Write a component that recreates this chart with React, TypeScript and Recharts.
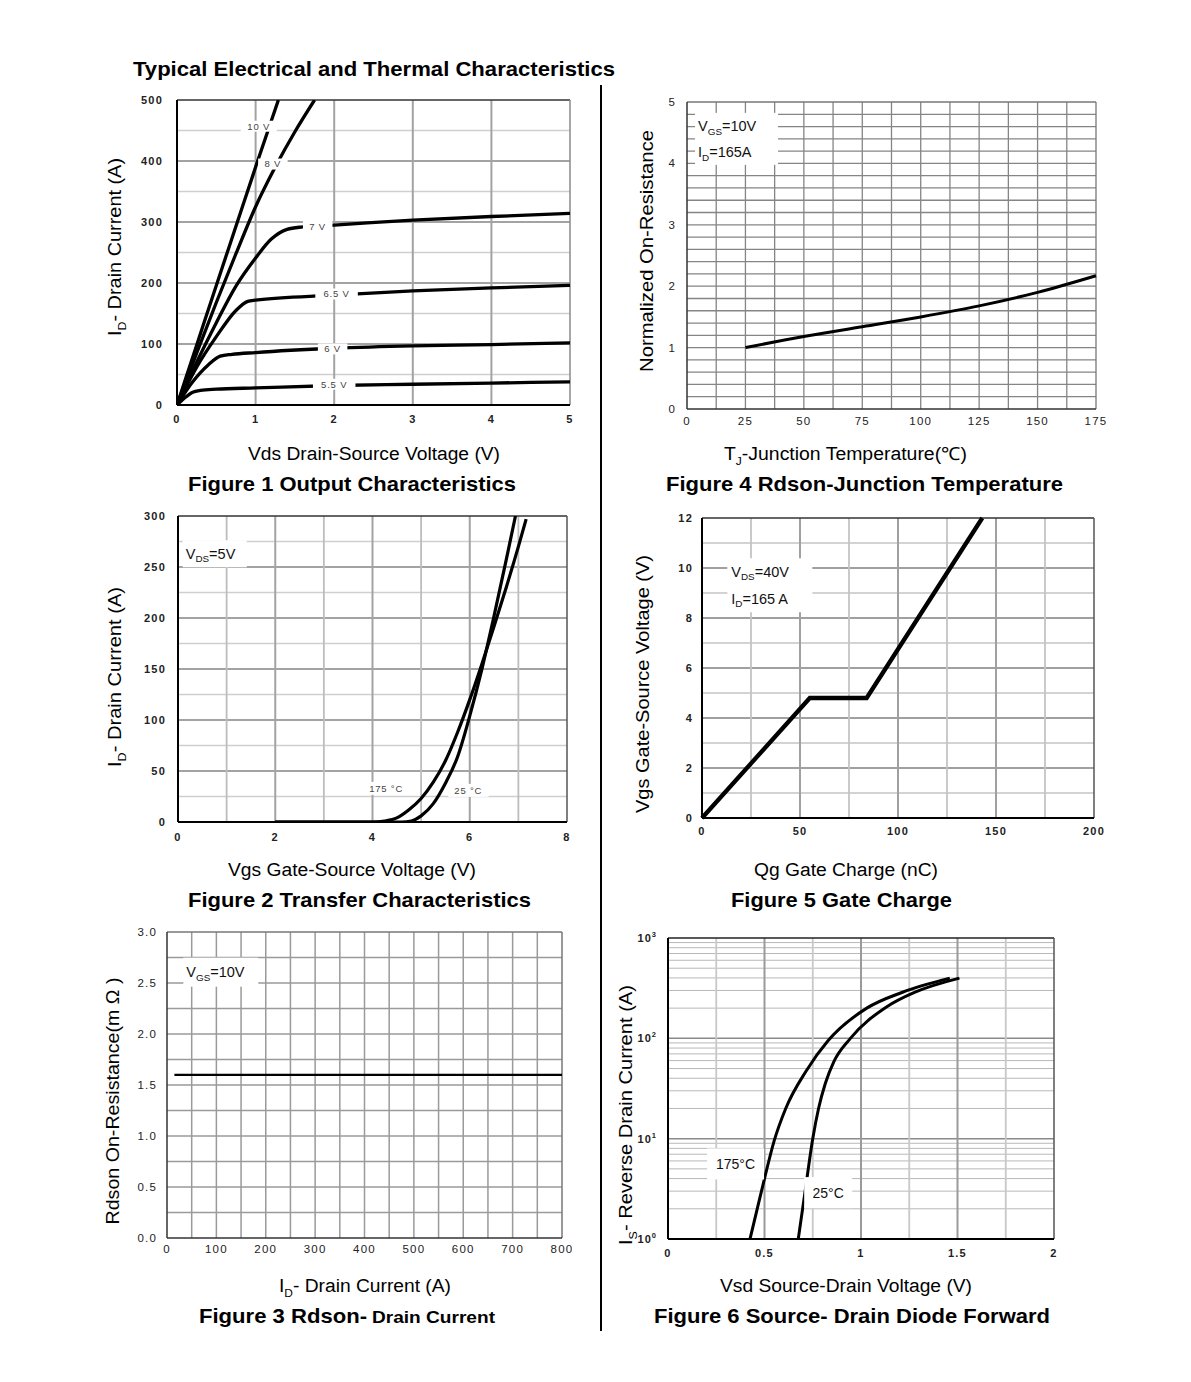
import React from 'react'
import { LineChart, Line, XAxis, YAxis, CartesianGrid, ReferenceDot } from 'recharts'

const FONT = '"Liberation Sans", Arial, Helvetica, sans-serif'

type P = { x: number; y: number }
const pts = (a: number[][]): P[] => a.map(([x, y]) => ({ x, y }))

// ---------- Figure 1 Output Characteristics ----------
const f1XTicks = [0, 1, 2, 3, 4, 5]
const f1YTicks = [0, 100, 200, 300, 400, 500]
const f1GridX = [1, 2, 3, 4]
const f1GridYMajor = [100, 200, 300, 400]
const f1GridYMinor = [50, 150, 250, 350, 450]
const f1Vgs10 = pts([[0, 0], [0.25, 98], [0.5, 196], [0.75, 293], [1, 390], [1.29, 500]])
const f1Vgs8 = pts([[0, 0], [0.25, 85], [0.5, 168], [0.75, 248], [1, 325], [1.25, 390], [1.5, 448], [1.75, 500]])
const f1Vgs7 = pts([[0, 0], [0.25, 70], [0.5, 135], [0.75, 195], [1, 241], [1.2, 272], [1.4, 288], [1.6, 292], [2, 295], [3, 303], [4, 309], [5, 314]])
const f1Vgs65 = pts([[0, 0], [0.25, 62], [0.5, 112], [0.75, 155], [0.9, 170], [1, 172], [2, 180], [3, 187], [4, 192], [5, 196]])
const f1Vgs6 = pts([[0, 0], [0.2, 38], [0.4, 66], [0.55, 80], [0.7, 83], [1, 86], [2, 93], [3, 97], [4, 99], [5, 102]])
const f1Vgs55 = pts([[0, 0], [0.1, 12], [0.2, 21], [0.3, 24], [0.5, 26], [1, 28], [2, 32], [3, 34], [4, 36], [5, 38]])
const f1Series = [f1Vgs10, f1Vgs8, f1Vgs7, f1Vgs65, f1Vgs6, f1Vgs55]
const f1Labels = [
  { text: '10 V', x: 1.04, y: 457 },
  { text: '8 V', x: 1.22, y: 395 },
  { text: '7 V', x: 1.79, y: 293 },
  { text: '6.5 V', x: 2.03, y: 182 },
  { text: '6 V', x: 1.98, y: 92 },
  { text: '5.5 V', x: 2.0, y: 34 },
]

// ---------- Figure 4 Rdson-Junction Temperature ----------
const f4XTicks = [0, 25, 50, 75, 100, 125, 150, 175]
const f4YTicks = [0, 1, 2, 3, 4, 5]
const f4GridX = [12.5, 25, 37.5, 50, 62.5, 75, 87.5, 100, 112.5, 125, 137.5, 150, 162.5]
const f4GridY = [0.2, 0.4, 0.6, 0.8, 1, 1.2, 1.4, 1.6, 1.8, 2, 2.2, 2.4, 2.6, 2.8, 3, 3.2, 3.4, 3.6, 3.8, 4, 4.2, 4.4, 4.6, 4.8]
const f4Curve = pts([[25, 1.0], [50, 1.18], [75, 1.34], [100, 1.5], [125, 1.68], [150, 1.9], [175, 2.17]])

// ---------- Figure 2 Transfer Characteristics ----------
const f2XTicks = [0, 2, 4, 6, 8]
const f2YTicks = [0, 50, 100, 150, 200, 250, 300]
const f2GridXMajor = [2, 4, 6]
const f2GridXMinor = [1, 3, 5, 7]
const f2GridYMajor = [50, 100, 150, 200, 250]
const f2GridYMinor = [25, 75, 125, 175, 225, 275]
const f2T175 = pts([[2, 0], [4, 0], [4.25, 1], [4.5, 4], [4.75, 12], [5, 23], [5.25, 39], [5.5, 60], [5.75, 88], [6, 120], [6.25, 155], [6.5, 192], [6.75, 230], [7, 270], [7.16, 297]])
const f2T25 = pts([[2, 0], [4.6, 0], [4.8, 1], [5, 6], [5.25, 18], [5.5, 38], [5.75, 64], [6, 104], [6.25, 150], [6.5, 202], [6.75, 257], [6.94, 300]])
const f2Labels = [
  { text: '175 °C', x: 4.28, y: 33 },
  { text: '25 °C', x: 5.97, y: 31 },
]

// ---------- Figure 5 Gate Charge ----------
const f5XTicks = [0, 50, 100, 150, 200]
const f5YTicks = [0, 2, 4, 6, 8, 10, 12]
const f5GridXMajor = [50, 100, 150]
const f5GridXMinor = [25, 75, 125, 175]
const f5GridYMajor = [2, 4, 6, 8, 10]
const f5GridYMinor = [1, 3, 5, 7, 9, 11]
const f5Curve = pts([[0, 0], [55, 4.8], [84, 4.8], [143, 12]])

// ---------- Figure 3 Rdson- Drain Current ----------
const f3XTicks = [0, 100, 200, 300, 400, 500, 600, 700, 800]
const f3YTicks = [0, 0.5, 1, 1.5, 2, 2.5, 3]
const f3GridX = [50, 100, 150, 200, 250, 300, 350, 400, 450, 500, 550, 600, 650, 700, 750]
const f3GridY = [0.25, 0.5, 0.75, 1, 1.25, 1.5, 1.75, 2, 2.25, 2.5, 2.75]
const f3Curve = pts([[15, 1.6], [100, 1.6], [200, 1.6], [300, 1.6], [400, 1.6], [500, 1.6], [600, 1.6], [700, 1.6], [800, 1.6]])

// ---------- Figure 6 Source- Drain Diode Forward ----------
const f6XTicks = [0, 0.5, 1, 1.5, 2]
const f6YTicks = [1, 10, 100, 1000]
const f6GridXMajor = [0.5, 1, 1.5]
const f6GridXMinor = [0.25, 0.75, 1.25, 1.75]
const f6GridYDecade = [10, 100]
const f6GridYMinor = [2, 3, 4, 5, 6, 7, 8, 9, 20, 30, 40, 50, 60, 70, 80, 90, 200, 300, 400, 500, 600, 700, 800, 900]
const f6T175 = pts([[0.425, 1], [0.47, 2.3], [0.5, 4], [0.55, 9.5], [0.61, 20], [0.715, 47], [0.83, 95], [1.03, 200], [1.215, 288], [1.46, 398]])
const f6T25 = pts([[0.675, 1], [0.71, 2.95], [0.75, 10], [0.78, 20], [0.815, 35.5], [0.86, 59], [0.945, 100], [1.13, 204], [1.28, 288], [1.51, 398]])
const f6Labels = [
  { text: '175°C', x: 0.35, y: 5.6 },
  { text: '25°C', x: 0.83, y: 2.9 },
]

// ---------- layout helpers ----------
const YW = 60
const XH = 30
const MT = 10
const MR = 10

type Seg = { t: string; sub?: boolean }

function Segs({ segs, size, ratio = 0.62 }: { segs: Seg[]; size: number; ratio?: number }) {
  let shifted = false
  return (
    <>
      {segs.map((s, i) => {
        let dy: number | undefined
        if (s.sub && !shifted) { dy = size * 0.25; shifted = true }
        else if (!s.sub && shifted) { dy = -size * 0.25; shifted = false }
        return (
          <tspan key={i} dy={dy} fontSize={s.sub ? size * ratio : size}>{s.t}</tspan>
        )
      })}
    </>
  )
}

function Note(props: any) {
  const { cx, cy, w, h, lines, size = 13, color = '#111', anchor = 'start', padX = 3, spacing = 0 } = props
  if (cx == null || cy == null) return null
  const left = cx - w / 2
  const top = cy - h / 2
  const lh = h / lines.length
  return (
    <g>
      <rect x={left} y={top} width={w} height={h} fill="#fff" stroke="none" />
      {lines.map((segs: Seg[], i: number) => (
        <text
          key={i}
          x={anchor === 'middle' ? cx : left + padX}
          y={top + lh * (i + 0.5)}
          dy="0.35em"
          textAnchor={anchor}
          fontSize={size}
          fill={color}
          fontFamily={FONT}
          letterSpacing={spacing}
        >
          <Segs segs={segs} size={size} ratio={0.68} />
        </text>
      ))}
    </g>
  )
}

const hGrid = (vals: number[], stroke: string, w: number, key: string) => (
  <CartesianGrid key={key} vertical={false} horizontalValues={vals} stroke={stroke} strokeWidth={w} syncWithTicks />
)
const vGrid = (vals: number[], stroke: string, w: number, key: string) => (
  <CartesianGrid key={key} horizontal={false} verticalValues={vals} stroke={stroke} strokeWidth={w} syncWithTicks />
)

function Panel({ box, children }: { box: number[]; children: React.ReactNode }) {
  const [x1, y1, x2, y2] = box
  const width = x2 - x1 + YW + MR
  const height = y2 - y1 + MT + XH
  return (
    <div style={{ position: 'absolute', left: x1 - YW, top: y1 - MT }}>
      <LineChart width={width} height={height} margin={{ top: MT, right: MR, bottom: 0, left: 0 }}>
        {children}
      </LineChart>
    </div>
  )
}

const boldTick = { fontSize: 11, fontWeight: 700, fill: '#222', fontFamily: FONT, letterSpacing: 1.2 }
const plainTick = { fontSize: 11.5, fill: '#222', fontFamily: FONT, letterSpacing: 1.2 }
const axisLine = { stroke: '#000', strokeWidth: 2 }

function LogTick(props: any) {
  const { x, y, payload } = props
  const exp = Math.round(Math.log10(payload.value))
  return (
    <text x={x} y={y} dy="0.35em" textAnchor="end" fontFamily={FONT} fontWeight={700} fontSize={11} fill="#222" letterSpacing={1}>
      <tspan>10</tspan>
      <tspan dy={-5} fontSize={7.5}>{exp}</tspan>
    </text>
  )
}

// ---------- page text ----------
function HText({ x, y, len, size, bold, anchor = 'middle', segs }: any) {
  return (
    <text
      x={x}
      y={y}
      textAnchor={anchor}
      fontSize={size}
      fontWeight={bold ? 700 : 400}
      fontFamily={FONT}
      fill="#000"
      textLength={len}
      lengthAdjust="spacingAndGlyphs"
    >
      <Segs segs={segs} size={size} />
    </text>
  )
}

function VText({ cx, cy, len, size, segs }: any) {
  return (
    <text
      transform={`translate(${cx},${cy}) rotate(-90)`}
      textAnchor="middle"
      dy="0.35em"
      fontSize={size}
      fontFamily={FONT}
      fill="#000"
      textLength={len}
      lengthAdjust="spacingAndGlyphs"
    >
      <Segs segs={segs} size={size} />
    </text>
  )
}

export default function App() {
  return (
    <div style={{ position: 'absolute', left: 0, top: 0, width: 1191, height: 1382, background: '#fff' }}>
      {/* Figure 1 */}
      <Panel box={[177, 100, 570, 405]}>
        {hGrid(f1GridYMinor, '#cfcfcf', 1.5, 'g1')}
        {hGrid(f1GridYMajor, '#a3a3a3', 2, 'g2')}
        {vGrid(f1GridX, '#a3a3a3', 2, 'g3')}
        {hGrid([500], '#333', 1.5, 'g4')}
        {vGrid([5], '#8a8a8a', 1.5, 'g5')}
        <XAxis type="number" dataKey="x" domain={[0, 5]} ticks={f1XTicks} interval={0} height={XH}
          tick={boldTick} tickLine={false} tickSize={0} tickMargin={10} axisLine={axisLine} allowDataOverflow />
        <YAxis type="number" dataKey="y" domain={[0, 500]} ticks={f1YTicks} interval={0} width={YW}
          tick={boldTick} tickLine={false} tickSize={0} tickMargin={14} axisLine={axisLine} allowDataOverflow />
        {f1Series.map((d, i) => (
          <Line key={i} data={d} dataKey="y" type="monotone" stroke="#000" strokeWidth={3.3} dot={false} isAnimationActive={false} />
        ))}
        {f1Labels.map((l, i) => (
          <ReferenceDot key={'l' + i} x={l.x} y={l.y} r={0} ifOverflow="visible"
            shape={(p: any) => <Note {...p} w={l.text.length * 6.5 + 10} h={11} size={9.5} color="#444" anchor="middle" spacing={0.8} lines={[[{ t: l.text }]]} />} />
        ))}
      </Panel>

      {/* Figure 4 */}
      <Panel box={[687, 102, 1096, 409]}>
        {hGrid(f4GridY, '#858585', 1.3, 'g1')}
        {vGrid(f4GridX, '#858585', 1.3, 'g2')}
        {hGrid([5], '#777', 1.3, 'g3')}
        {vGrid([175], '#777', 1.3, 'g4')}
        <XAxis type="number" dataKey="x" domain={[0, 175]} ticks={f4XTicks} interval={0} height={XH}
          tick={plainTick} tickLine={false} tickSize={0} tickMargin={8} axisLine={{ stroke: '#333', strokeWidth: 1.5 }} />
        <YAxis type="number" dataKey="y" domain={[0, 5]} ticks={f4YTicks} interval={0} width={YW}
          tick={plainTick} tickLine={false} tickSize={0} tickMargin={11} axisLine={{ stroke: '#333', strokeWidth: 1.5 }} />
        <Line data={f4Curve} dataKey="y" type="monotone" stroke="#000" strokeWidth={3} dot={false} isAnimationActive={false} />
        <ReferenceDot x={21.2} y={4.4} r={0} ifOverflow="visible"
          shape={(p: any) => <Note {...p} w={83} h={52} size={14.5} padX={3} color="#111"
            lines={[[{ t: 'V' }, { t: 'GS', sub: true }, { t: '=10V' }], [{ t: 'I' }, { t: 'D', sub: true }, { t: '=165A' }]]} />} />
      </Panel>

      {/* Figure 2 */}
      <Panel box={[178, 516, 567, 822]}>
        {hGrid(f2GridYMinor, '#cfcfcf', 1.5, 'g1')}
        {hGrid(f2GridYMajor, '#a3a3a3', 2, 'g2')}
        {vGrid(f2GridXMinor, '#bdbdbd', 1.8, 'g3')}
        {vGrid(f2GridXMajor, '#a3a3a3', 2, 'g4')}
        {hGrid([300], '#333', 1.5, 'g5')}
        {vGrid([8], '#555', 1.5, 'g6')}
        <XAxis type="number" dataKey="x" domain={[0, 8]} ticks={f2XTicks} interval={0} height={XH}
          tick={boldTick} tickLine={false} tickSize={0} tickMargin={11} axisLine={axisLine} allowDataOverflow />
        <YAxis type="number" dataKey="y" domain={[0, 300]} ticks={f2YTicks} interval={0} width={YW}
          tick={boldTick} tickLine={false} tickSize={0} tickMargin={12} axisLine={axisLine} allowDataOverflow />
        <Line data={f2T175} dataKey="y" type="monotone" stroke="#000" strokeWidth={3.2} dot={false} isAnimationActive={false} />
        <Line data={f2T25} dataKey="y" type="monotone" stroke="#000" strokeWidth={3.2} dot={false} isAnimationActive={false} />
        {f2Labels.map((l, i) => (
          <ReferenceDot key={'l' + i} x={l.x} y={l.y} r={0} ifOverflow="visible"
            shape={(p: any) => <Note {...p} w={l.text.length * 6.5 + 8} h={13} size={9.5} color="#444" anchor="middle" spacing={0.8} lines={[[{ t: l.text }]]} />} />
        ))}
        <ReferenceDot x={0.756} y={263} r={0} ifOverflow="visible"
          shape={(p: any) => <Note {...p} w={64} h={27} size={14.5} padX={3} color="#111"
            lines={[[{ t: 'V' }, { t: 'DS', sub: true }, { t: '=5V' }]]} />} />
      </Panel>

      {/* Figure 5 */}
      <Panel box={[702, 518, 1094, 818]}>
        {hGrid(f5GridYMinor, '#c4c4c4', 1.5, 'g1')}
        {hGrid(f5GridYMajor, '#a0a0a0', 2, 'g2')}
        {vGrid(f5GridXMinor, '#c4c4c4', 1.8, 'g3')}
        {vGrid(f5GridXMajor, '#a0a0a0', 2, 'g4')}
        {hGrid([12], '#333', 1.5, 'g5')}
        {vGrid([200], '#555', 1.5, 'g6')}
        <XAxis type="number" dataKey="x" domain={[0, 200]} ticks={f5XTicks} interval={0} height={XH}
          tick={boldTick} tickLine={false} tickSize={0} tickMargin={9} axisLine={axisLine} />
        <YAxis type="number" dataKey="y" domain={[0, 12]} ticks={f5YTicks} interval={0} width={YW}
          tick={boldTick} tickLine={false} tickSize={0} tickMargin={9} axisLine={axisLine} />
        <Line data={f5Curve} dataKey="y" type="linear" stroke="#000" strokeWidth={4.3} dot={false} isAnimationActive={false} />
        <ReferenceDot x={34.6} y={9.31} r={0} ifOverflow="visible"
          shape={(p: any) => <Note {...p} w={85} h={54} size={14.5} padX={4} color="#111"
            lines={[[{ t: 'V' }, { t: 'DS', sub: true }, { t: '=40V' }], [{ t: 'I' }, { t: 'D', sub: true }, { t: '=165 A' }]]} />} />
      </Panel>

      {/* Figure 3 */}
      <Panel box={[167, 932, 562, 1238]}>
        {hGrid(f3GridY, '#9a9a9a', 1.5, 'g1')}
        {vGrid(f3GridX, '#9a9a9a', 1.5, 'g2')}
        {hGrid([3], '#777', 1.5, 'g3')}
        {vGrid([800], '#777', 1.5, 'g4')}
        <XAxis type="number" dataKey="x" domain={[0, 800]} ticks={f3XTicks} interval={0} height={XH}
          tick={plainTick} tickLine={false} tickSize={0} tickMargin={7} axisLine={{ stroke: '#333', strokeWidth: 1.5 }} />
        <YAxis type="number" dataKey="y" domain={[0, 3]} ticks={f3YTicks} interval={0} width={YW}
          tick={plainTick} tickLine={false} tickSize={0} tickMargin={10} axisLine={{ stroke: '#333', strokeWidth: 1.5 }}
          tickFormatter={(v: number) => v.toFixed(1)} />
        <Line data={f3Curve} dataKey="y" type="linear" stroke="#000" strokeWidth={2.2} dot={false} isAnimationActive={false} />
        <ReferenceDot x={109} y={2.606} r={0} ifOverflow="visible"
          shape={(p: any) => <Note {...p} w={75} h={29} size={14.5} padX={3} color="#111"
            lines={[[{ t: 'V' }, { t: 'GS', sub: true }, { t: '=10V' }]]} />} />
      </Panel>

      {/* Figure 6 */}
      <Panel box={[668, 938, 1054, 1239]}>
        {hGrid(f6GridYMinor, '#b8b8b8', 1, 'g1')}
        {hGrid(f6GridYDecade, '#8a8a8a', 1.5, 'g2')}
        {vGrid(f6GridXMinor, '#c8c8c8', 1.8, 'g3')}
        {vGrid(f6GridXMajor, '#9a9a9a', 2, 'g4')}
        {hGrid([1000], '#222', 1.5, 'g5')}
        {vGrid([2], '#555', 1.5, 'g6')}
        <XAxis type="number" dataKey="x" domain={[0, 2]} ticks={f6XTicks} interval={0} height={XH}
          tick={boldTick} tickLine={false} tickSize={0} tickMargin={10} axisLine={axisLine} />
        <YAxis type="number" dataKey="y" scale="log" domain={[1, 1000]} ticks={f6YTicks} interval={0} width={YW}
          tick={<LogTick />} tickLine={false} tickSize={0} tickMargin={11} axisLine={axisLine} allowDataOverflow />
        <Line data={f6T175} dataKey="y" type="monotone" stroke="#000" strokeWidth={3} dot={false} isAnimationActive={false} />
        <Line data={f6T25} dataKey="y" type="monotone" stroke="#000" strokeWidth={3} dot={false} isAnimationActive={false} />
        {f6Labels.map((l, i) => (
          <ReferenceDot key={'l' + i} x={l.x} y={l.y} r={0} ifOverflow="visible"
            shape={(p: any) => <Note {...p} w={l.text.length * 9 + 12} h={31} size={14} color="#111" anchor="middle" lines={[[{ t: l.text }]]} />} />
        ))}
      </Panel>

      {/* titles, axis names, divider */}
      <svg width={1191} height={1382} style={{ position: 'absolute', left: 0, top: 0, pointerEvents: 'none' }}>
        <line x1={601} y1={85} x2={601} y2={1331} stroke="#000" strokeWidth={2} />
        <HText x={133} y={76} len={482} size={21} bold anchor="start" segs={[{ t: 'Typical Electrical and Thermal Characteristics' }]} />

        <HText x={374} y={460} len={252} size={18} segs={[{ t: 'Vds Drain-Source Voltage (V)' }]} />
        <HText x={352} y={491} len={328} size={21} bold segs={[{ t: 'Figure 1 Output Characteristics' }]} />
        <HText x={845.5} y={460} len={243} size={18} segs={[{ t: 'T' }, { t: 'J', sub: true }, { t: '-Junction Temperature(℃)' }]} />
        <HText x={864.5} y={491} len={397} size={21} bold segs={[{ t: 'Figure 4 Rdson-Junction Temperature' }]} />

        <HText x={352} y={876} len={248} size={18} segs={[{ t: 'Vgs Gate-Source Voltage (V)' }]} />
        <HText x={359.5} y={907} len={343} size={21} bold segs={[{ t: 'Figure 2 Transfer Characteristics' }]} />
        <HText x={846} y={876} len={184} size={18} segs={[{ t: 'Qg Gate Charge (nC)' }]} />
        <HText x={841.5} y={907} len={221} size={21} bold segs={[{ t: 'Figure 5 Gate Charge' }]} />

        <HText x={365} y={1292} len={172} size={18} segs={[{ t: 'I' }, { t: 'D', sub: true }, { t: '- Drain Current (A)' }]} />
        <HText x={199} y={1323} len={168} size={21} bold anchor="start" segs={[{ t: 'Figure 3 Rdson-' }]} />
        <HText x={372} y={1323} len={123} size={17} bold anchor="start" segs={[{ t: 'Drain Current' }]} />
        <HText x={846} y={1292} len={252} size={18} segs={[{ t: 'Vsd Source-Drain Voltage (V)' }]} />
        <HText x={852} y={1323} len={396} size={21} bold segs={[{ t: 'Figure 6 Source- Drain Diode Forward' }]} />

        <VText cx={115} cy={247} len={178} size={18} segs={[{ t: 'I' }, { t: 'D', sub: true }, { t: '- Drain Current (A)' }]} />
        <VText cx={647} cy={251} len={242} size={18} segs={[{ t: 'Normalized On-Resistance' }]} />
        <VText cx={115} cy={677} len={180} size={18} segs={[{ t: 'I' }, { t: 'D', sub: true }, { t: '- Drain Current (A)' }]} />
        <VText cx={643} cy={684} len={258} size={18} segs={[{ t: 'Vgs Gate-Source Voltage (V)' }]} />
        <VText cx={113} cy={1101} len={247} size={18} segs={[{ t: 'Rdson On-Resistance(m Ω )' }]} />
        <VText cx={626} cy={1115} len={260} size={18} segs={[{ t: 'I' }, { t: 'S', sub: true }, { t: '- Reverse Drain Current (A)' }]} />
      </svg>
    </div>
  )
}
